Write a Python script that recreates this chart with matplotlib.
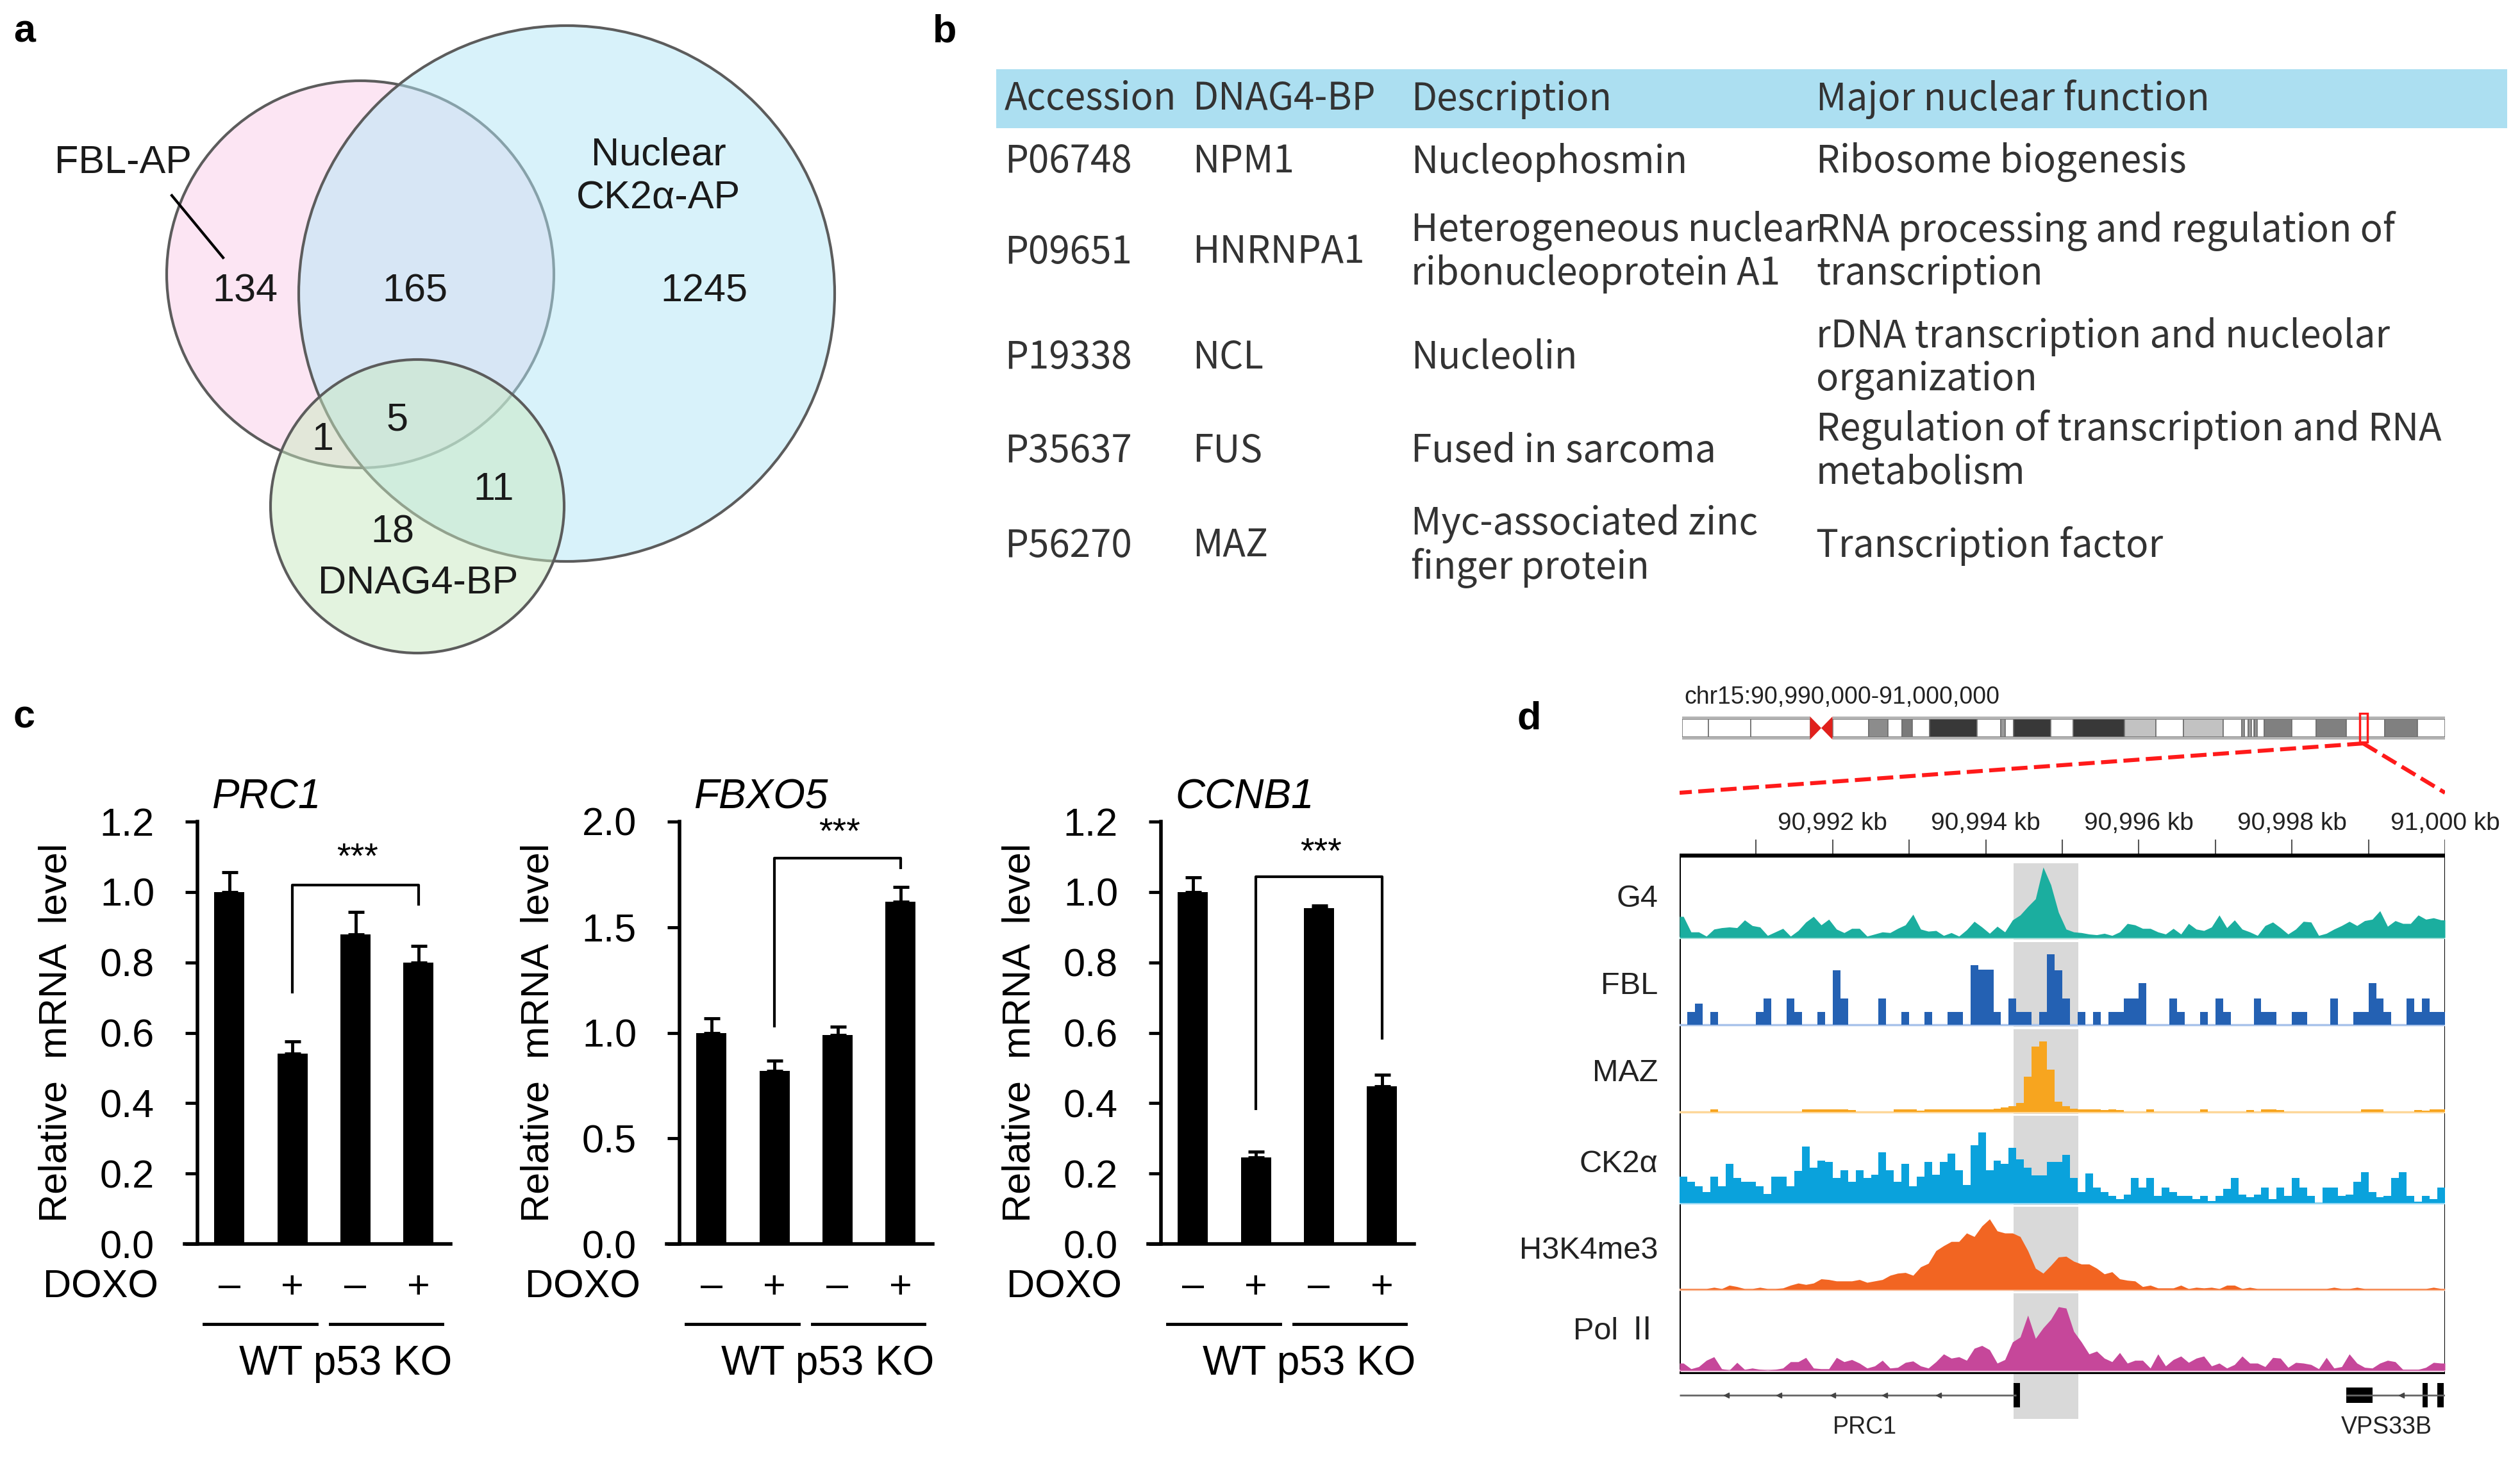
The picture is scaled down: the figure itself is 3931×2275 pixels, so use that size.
import numpy as np
import matplotlib
matplotlib.use("Agg")
import matplotlib.pyplot as plt
from matplotlib.patches import Circle, Rectangle, Polygon
from matplotlib.colors import to_rgba
from matplotlib.ticker import FormatStrFormatter
from matplotlib.transforms import blended_transform_factory

W, H = 3931, 2275
plt.rcParams['font.family'] = ['Liberation Sans', 'DejaVu Sans']

# ---------------- data ----------------
# panel a: Venn counts
venn_names = ['FBL-AP', 'Nuclear\nCK2α-AP', 'DNAG4-BP']
# FBL only, FBL&CK2, CK2 only, FBL&G4, all three, CK2&G4, G4 only
venn_counts = [134, 165, 1245, 1, 5, 11, 18]

# panel b: table
table_header = ['Accession', 'DNAG4-BP', 'Description', 'Major nuclear function']
accessions = ['P06748', 'P09651', 'P19338', 'P35637', 'P56270']
bp_genes = ['NPM1', 'HNRNPA1', 'NCL', 'FUS', 'MAZ']
descriptions = ['Nucleophosmin', 'Heterogeneous nuclear\nribonucleoprotein A1',
                'Nucleolin', 'Fused in sarcoma', 'Myc-associated zinc\nfinger protein']
functions = ['Ribosome biogenesis', 'RNA processing and regulation of\ntranscription',
             'rDNA transcription and nucleolar\norganization',
             'Regulation of transcription and RNA\nmetabolism', 'Transcription factor']

# panel c: qPCR
doxo = ['–', '+', '–', '+']
genes_c = ['PRC1', 'FBXO5', 'CCNB1']
prc1_mean = [1.00, 0.54, 0.88, 0.80]
prc1_err = [0.056, 0.035, 0.064, 0.046]
fbxo5_mean = [1.00, 0.82, 0.99, 1.62]
fbxo5_err = [0.068, 0.048, 0.040, 0.069]
ccnb1_mean = [1.00, 0.245, 0.954, 0.448]
ccnb1_err = [0.042, 0.018, 0.007, 0.032]
ymax_c = [1.2, 2.0, 1.2]
ystep_c = [0.2, 0.5, 0.2]
# bracket: left foot, top, right foot, star height
brackets = [(0.715, 1.02, 0.965, 1.096), (1.032, 1.827, 1.78, 1.945), (0.384, 1.043, 0.584, 1.11)]

# panel d: genome tracks, 100 bins of 100 bp over chr15:90,990-91,000 kb
track_names = ['G4', 'FBL', 'MAZ', 'CK2α', 'H3K4me3', 'Pol Ⅱ']
g4 = [0.30, 0.08, 0.08, 0.02, 0.12, 0.14, 0.15, 0.14, 0.25, 0.17,
      0.15, 0.03, 0.08, 0.13, 0.02, 0.10, 0.22, 0.30, 0.18, 0.26,
      0.12, 0.07, 0.13, 0.13, 0.02, 0.05, 0.08, 0.07, 0.13, 0.18,
      0.33, 0.12, 0.09, 0.10, 0.03, 0.07, 0.02, 0.11, 0.23, 0.15,
      0.06, 0.16, 0.08, 0.25, 0.32, 0.44, 0.55, 1.00, 0.75, 0.36,
      0.12, 0.08, 0.07, 0.05, 0.04, 0.06, 0.03, 0.08, 0.20, 0.18,
      0.13, 0.13, 0.08, 0.05, 0.13, 0.05, 0.20, 0.12, 0.10, 0.15,
      0.32, 0.14, 0.25, 0.12, 0.08, 0.03, 0.17, 0.22, 0.14, 0.05,
      0.12, 0.23, 0.22, 0.03, 0.06, 0.12, 0.17, 0.23, 0.17, 0.24,
      0.26, 0.38, 0.16, 0.24, 0.20, 0.20, 0.32, 0.26, 0.28, 0.25]
fbl = [0, 0.18, 0.30, 0, 0.18, 0, 0, 0, 0, 0,
       0.18, 0.37, 0, 0, 0.37, 0.18, 0, 0, 0.18, 0,
       0.77, 0.37, 0, 0, 0, 0, 0.37, 0, 0, 0.18,
       0, 0, 0.18, 0, 0, 0.18, 0.18, 0, 0.85, 0.78,
       0.78, 0.18, 0, 0.37, 0.18, 0.18, 0, 0.18, 1.00, 0.77,
       0.37, 0, 0.18, 0, 0.18, 0, 0.18, 0.18, 0.37, 0.37,
       0.59, 0, 0, 0, 0.37, 0.18, 0, 0, 0.18, 0,
       0.37, 0.18, 0, 0, 0, 0.37, 0.18, 0.18, 0, 0,
       0.18, 0.18, 0, 0, 0, 0.37, 0, 0, 0.18, 0.18,
       0.59, 0.37, 0.18, 0, 0, 0.37, 0.18, 0.37, 0.18, 0.18]
maz = [0, 0, 0, 0, 0.04, 0, 0, 0, 0, 0,
       0, 0, 0, 0, 0, 0, 0.04, 0.04, 0.04, 0.04,
       0.04, 0.04, 0.03, 0, 0, 0, 0, 0, 0.04, 0.04,
       0.04, 0.02, 0.04, 0.04, 0.04, 0.04, 0.04, 0.04, 0.04, 0.04,
       0.04, 0.05, 0.06, 0.08, 0.13, 0.50, 0.93, 1.00, 0.60, 0.15,
       0.08, 0.05, 0.04, 0.04, 0.04, 0.03, 0.04, 0.03, 0, 0,
       0, 0.04, 0, 0, 0, 0, 0, 0, 0.04, 0,
       0, 0, 0, 0, 0.03, 0, 0.04, 0.04, 0.03, 0,
       0, 0, 0, 0, 0, 0, 0, 0, 0, 0.04,
       0.04, 0.04, 0, 0, 0, 0, 0.03, 0.02, 0.04, 0.04]
ck2a = [0.37, 0.30, 0.24, 0.15, 0.37, 0.24, 0.55, 0.35, 0.30, 0.30,
        0.24, 0.13, 0.37, 0.37, 0.24, 0.45, 0.80, 0.50, 0.60, 0.58,
        0.35, 0.46, 0.30, 0.46, 0.35, 0.40, 0.72, 0.46, 0.30, 0.55,
        0.24, 0.37, 0.58, 0.40, 0.58, 0.70, 0.46, 0.25, 0.82, 1.00,
        0.46, 0.60, 0.55, 0.78, 0.62, 0.50, 0.39, 0.39, 0.58, 0.58,
        0.68, 0.35, 0.15, 0.42, 0.22, 0.15, 0.10, 0.05, 0.12, 0.35,
        0.22, 0.35, 0.10, 0.22, 0.15, 0.10, 0.10, 0.05, 0.10, 0.03,
        0.10, 0.20, 0.35, 0.12, 0.08, 0.12, 0.22, 0.05, 0.22, 0.10,
        0.35, 0.22, 0.10, 0.00, 0.22, 0.22, 0.10, 0.12, 0.30, 0.44,
        0.15, 0.08, 0.10, 0.35, 0.44, 0.10, 0.02, 0.10, 0.05, 0.22]
h3k4me3 = [0.01, 0.01, 0.01, 0.01, 0.03, 0.01, 0.06, 0.04, 0.01, 0.01,
           0.03, 0.01, 0.01, 0.02, 0.06, 0.09, 0.07, 0.09, 0.15, 0.14,
           0.12, 0.12, 0.12, 0.14, 0.10, 0.12, 0.14, 0.20, 0.23, 0.24,
           0.20, 0.32, 0.37, 0.55, 0.62, 0.68, 0.68, 0.80, 0.75, 0.90,
           1.00, 0.83, 0.80, 0.80, 0.75, 0.55, 0.30, 0.23, 0.34, 0.46,
           0.47, 0.40, 0.36, 0.36, 0.30, 0.22, 0.25, 0.15, 0.13, 0.12,
           0.04, 0.06, 0.02, 0.02, 0.02, 0.06, 0.01, 0.03, 0.02, 0.03,
           0.01, 0.06, 0.06, 0.01, 0.03, 0.01, 0.01, 0.01, 0.01, 0.01,
           0.01, 0.01, 0.01, 0.01, 0.01, 0.03, 0.01, 0.01, 0.03, 0.01,
           0.01, 0.01, 0.01, 0.01, 0.01, 0.01, 0.01, 0.01, 0.03, 0.01]
pol2 = [0.10, 0.02, 0.05, 0.14, 0.19, 0.02, 0.00, 0.11, 0.01, 0.03,
        0.01, 0.00, 0.01, 0.03, 0.12, 0.12, 0.18, 0.03, 0.02, 0.02,
        0.18, 0.12, 0.15, 0.10, 0.03, 0.06, 0.14, 0.03, 0.04, 0.11,
        0.13, 0.06, 0.03, 0.12, 0.23, 0.17, 0.19, 0.14, 0.31, 0.35,
        0.29, 0.10, 0.15, 0.40, 0.47, 0.78, 0.45, 0.60, 0.72, 0.90,
        0.88, 0.55, 0.40, 0.23, 0.27, 0.17, 0.12, 0.25, 0.10, 0.14,
        0.14, 0.03, 0.23, 0.06, 0.15, 0.20, 0.11, 0.17, 0.20, 0.06,
        0.10, 0.03, 0.08, 0.20, 0.10, 0.10, 0.05, 0.18, 0.17, 0.04,
        0.11, 0.10, 0.08, 0.02, 0.18, 0.03, 0.05, 0.23, 0.10, 0.04,
        0.03, 0.10, 0.14, 0.12, 0.01, 0.01, 0.01, 0.04, 0.11, 0.10]
tracks = [g4, fbl, maz, ck2a, h3k4me3, pol2]
track_colors = ['#1bae9f', '#2461b3', '#f7a51f', '#0aa2dc', '#f26522', '#c6479a']
track_light = ['#a6e2da', '#a9c3ea', '#fdd79a', '#93d6f2', '#fbbf9c', '#e7a9cf']
track_step = [False, True, True, True, False, False]
highlight_kb = (90994.36, 90995.21)

# chr15 ideogram bands (Mb)
band_start = [0, 3.5, 9.2, 20.1, 24.9, 27.5, 29.4, 30.8, 33.1, 39.4, 42.6, 43.2, 44.3,
              49.3, 52.3, 59.1, 63.3, 67.0, 72.3, 74.8, 75.2, 75.7, 76.1, 76.5, 76.9,
              77.8, 81.5, 84.8, 88.8, 93.9, 98.3]
band_end = band_start[1:3] + [17.1] + band_start[4:] + [102.0]
band_color = ['w', 'w', 'w', 'w', '#8c8c8c', 'w', '#7a7a7a', 'w', '#383838', 'w', '#999999',
              'w', '#383838', 'w', '#383838', '#c2c2c2', 'w', '#c2c2c2', 'w', '#9a9a9a',
              'w', '#9a9a9a', 'w', '#9a9a9a', 'w', '#808080', 'w', '#808080', 'w',
              '#808080', 'w']
centromere = (17.1, 20.1)
region_mb = (90.6, 91.6)

# genes
prc1_span = (90990.0, 90994.4)
prc1_arrows = [90990.61, 90991.30, 90992.0, 90992.68, 90993.38]
prc1_exons = [(90994.36, 90994.45)]
vps33b_span = (90998.71, 91000.0)
vps33b_utr = [(90998.71, 90999.05)]
vps33b_arrows = [90999.43]
vps33b_exons = [(90999.71, 90999.77), (90999.90, 90999.98)]


def box(x0, y0, x1, y1):
    return [x0 / W, 1 - y1 / H, (x1 - x0) / W, (y1 - y0) / H]


fig = plt.figure(figsize=(W / 100, H / 100), dpi=100)

# overlay axes in pixel units
ov = fig.add_axes([0, 0, 1, 1])
ov.set_xlim(0, W)
ov.set_ylim(H, 0)
ov.axis('off')

for lab, (px, py) in zip('abcd', [(38, 50), (1474, 50), (38, 1120), (2385, 1122)]):
    ov.text(px, py, lab, fontsize=44, fontweight='bold', ha='center', va='center')

# ---------------- a: Venn ----------------
venn_circles = [((562, 428), 302, '#fbcde9'), ((884, 458), 418, '#b3e7f7'), ((651, 790), 229, '#c9e9c1')]
for (cx, cy), r, col in venn_circles:
    ov.add_patch(Circle((cx, cy), r, facecolor=to_rgba(col, 0.5), edgecolor='#5c5c5c', lw=3))
count_pos = [(382, 455), (647, 455), (1098, 455), (503, 687), (620, 656), (770, 764), (612, 831)]
for n, (px, py) in zip(venn_counts, count_pos):
    ov.text(px, py, str(n), fontsize=44, ha='center', va='center', color='#1a1a1a')
for name, (px, py) in zip(venn_names, [(192, 255), (1027, 276), (652, 911)]):
    ov.text(px, py, name, fontsize=44, ha='center', va='center', color='#1a1a1a', linespacing=1.25)
ov.plot([268, 348], [305, 402], color='black', lw=3)

# ---------------- b: table ----------------
tfont = ['Noto Sans CJK JP', 'DejaVu Sans']
col_x = [1567, 1860, 2201, 2833]
row_y = [253, 394, 559, 704, 852]
ov.add_patch(Rectangle((1554, 108), 2357, 92, facecolor='#acdff1', lw=0))
for cx, txt in zip(col_x, table_header):
    ov.text(cx, 155, txt, family=tfont, fontsize=42, ha='left', va='center', color='#333333')
for ry, row in zip(row_y, zip(accessions, bp_genes, descriptions, functions)):
    for cx, cell in zip(col_x, row):
        lines = cell.split('\n')
        for j, line in enumerate(lines):
            ly = ry + (j - (len(lines) - 1) / 2) * 68
            ov.text(cx, ly, line, family=tfont, fontsize=42, ha='left', va='center', color='#333333')

# ---------------- c: bar charts ----------------
means = [prc1_mean, fbxo5_mean, ccnb1_mean]
errs = [prc1_err, fbxo5_err, ccnb1_err]
lefts = [288, 1040, 1791]
x = np.arange(4)
for k in range(3):
    ax = fig.add_axes(box(lefts[k], 1282, lefts[k] + 415, 1941))
    ax.patch.set_visible(False)
    ax.bar(x, means[k], width=0.48, color='black', zorder=2)
    ax.errorbar(x, means[k], yerr=[np.zeros(4), errs[k]], fmt='none', ecolor='black',
                elinewidth=3.5, capsize=9, capthick=3.5, zorder=3)
    ax.set_xlim(-0.71, 3.51)
    ax.set_ylim(0, ymax_c[k])
    ax.set_yticks(np.arange(0, ymax_c[k] + 1e-9, ystep_c[k]))
    ax.yaxis.set_major_formatter(FormatStrFormatter('%.1f'))
    ax.set_xticks([])
    ax.spines[['top', 'right']].set_visible(False)
    ax.spines['left'].set_position(('data', -0.51))
    ax.spines['left'].set_linewidth(4)
    ax.spines['bottom'].set_linewidth(4)
    ax.tick_params(axis='y', length=14, width=3.5, pad=34, labelsize=44)

    b0, b1, b2, bs = brackets[k]
    ax.plot([1, 1, 3, 3], [b0, b1, b1, b2], color='black', lw=3, clip_on=False)
    ax.text(2.03, bs, '***', ha='center', va='center', fontsize=40)

    tr = blended_transform_factory(ax.transData, ov.transData)
    ax.text(-2.04, 2009, 'DOXO', transform=tr, ha='center', va='center', fontsize=44)
    for xi, s in zip(x, doxo):
        ax.text(xi, 2009, s, transform=tr, ha='center', va='center', fontsize=44)
    ax.plot([-0.4, 1.38], [2066, 2066], transform=tr, color='black', lw=3.5, clip_on=False)
    ax.plot([1.6, 3.38], [2066, 2066], transform=tr, color='black', lw=3.5, clip_on=False)
    ax.text(1.84, 2128, 'WT p53 KO', transform=tr, ha='center', va='center', fontsize=46)

    ov.text(lefts[k] + 42, 1245, genes_c[k], style='italic', fontsize=46, ha='left', va='center')
    ov.text(lefts[k] - 200, 1611, 'Relative  mRNA  level', rotation=90, ha='center',
            va='center', fontsize=44)

# ---------------- d: genome browser ----------------
ad = fig.add_axes(box(2620, 1060, 3814, 2260))
ad.set_xlim(90990, 91000)
ad.set_ylim(2260, 1060)
ad.axis('off')

ov.text(2627, 1088, 'chr15:90,990,000-91,000,000', fontsize=27, ha='left', va='center', color='#222222')

# ideogram
ai = fig.add_axes(box(2624, 1112, 3814, 1160))
ai.set_xlim(0, 102)
ai.set_ylim(0, 1)
ai.axis('off')
for s, e, c in zip(band_start, band_end, band_color):
    ai.add_patch(Rectangle((s, 0.21), e - s, 0.58, facecolor=c, edgecolor='#6e6e6e', lw=1.2))
for s, e in [(0, centromere[0]), (centromere[1], 102)]:
    ai.add_patch(Rectangle((s, 0.79), e - s, 0.085, facecolor='#b4b4b4', lw=0))
    ai.add_patch(Rectangle((s, 0.125), e - s, 0.085, facecolor='#b4b4b4', lw=0))
cm = (centromere[0] + centromere[1]) / 2
ai.add_patch(Polygon([(centromere[0], 0.875), (cm, 0.5), (centromere[0], 0.125)], color='#e0201c', lw=0))
ai.add_patch(Polygon([(centromere[1], 0.875), (cm, 0.5), (centromere[1], 0.125)], color='#e0201c', lw=0))
ai.add_patch(Rectangle((region_mb[0], 0.04), region_mb[1] - region_mb[0], 0.94, fill=False,
                       edgecolor='#ff1a1a', lw=2.5))

# zoom lines
zoom_kb = 90990 + (region_mb[0] + region_mb[1]) / 2 / 102 * 10
ad.plot([zoom_kb, 90990], [1160, 1237], color='#ff1a1a', lw=4.5, dashes=(4, 1.6))
ad.plot([zoom_kb, 91000], [1160, 1237], color='#ff1a1a', lw=4.5, dashes=(4, 1.6))

# ruler
ad.vlines(np.arange(90991, 91001), 1310, 1335, color='#555555', lw=1.5)
for kb in range(90992, 91001, 2):
    ad.text(kb, 1285, f'{kb:,} kb', fontsize=28, ha='center', va='center', color='#222222')
ad.hlines(1335, 90990, 91000, color='black', lw=4.5, zorder=5)
ad.add_patch(Rectangle((90990, 1335), 10, 807, fill=False, edgecolor='black', lw=2.2, zorder=5))

# tracks
base_px = [1463, 1599, 1735, 1877, 2012, 2138]
seg_top = [1347, 1470, 1606, 1741, 1883, 2018]
TH = 110
edges = 90990 + 0.1 * np.arange(101)
centers = edges[:-1] + 0.05
for i, vals in enumerate(tracks):
    base, top = base_px[i], seg_top[i]
    bottom = base + 3 if i < 5 else 2140
    axt = fig.add_axes(box(2620, top, 3814, bottom))
    axt.set_xlim(90990, 91000)
    axt.set_ylim(-(bottom - base) / TH, (base - top) / TH)
    axt.axis('off')
    axt.axvspan(*highlight_kb, color='#d9d9d9', lw=0, zorder=0)
    axt.axhline(0, color=track_light[i], lw=2.5, zorder=1)
    v = np.asarray(vals, dtype=float)
    if track_step[i]:
        axt.fill_between(edges, np.append(v, v[-1]), step='post', color=track_colors[i], lw=0, zorder=2)
    else:
        xs = np.concatenate([[90990], centers, [91000]])
        ys = np.concatenate([[v[0]], v, [v[-1]]])
        axt.fill_between(xs, ys, color=track_colors[i], lw=0, zorder=2)
    ad.text(90989.72, base - 60, track_names[i], fontsize=35, ha='right', va='center',
            family=['Liberation Sans', 'Noto Sans CJK JP'], color='#222222')

# gene track
ad.add_patch(Rectangle((highlight_kb[0], 2142), highlight_kb[1] - highlight_kb[0], 72,
                       facecolor='#d9d9d9', lw=0, zorder=0))
ad.hlines(2177, *prc1_span, color='#666666', lw=2)
ad.hlines(2177, *vps33b_span, color='#666666', lw=2)
ad.plot(prc1_arrows + vps33b_arrows, [2177] * 6, ls='none', marker='<', ms=6, color='#444444')
for s, e in prc1_exons + vps33b_exons:
    ad.add_patch(Rectangle((s, 2158), e - s, 38, color='black', lw=0))
for s, e in vps33b_utr:
    ad.add_patch(Rectangle((s, 2165), e - s, 24, color='black', lw=0))
ad.text(90992.42, 2227, 'PRC1', fontsize=27, ha='center', va='center', color='#222222')
ad.text(90999.24, 2227, 'VPS33B', fontsize=27, ha='center', va='center', color='#222222')

fig.savefig('out.png', dpi=100)
